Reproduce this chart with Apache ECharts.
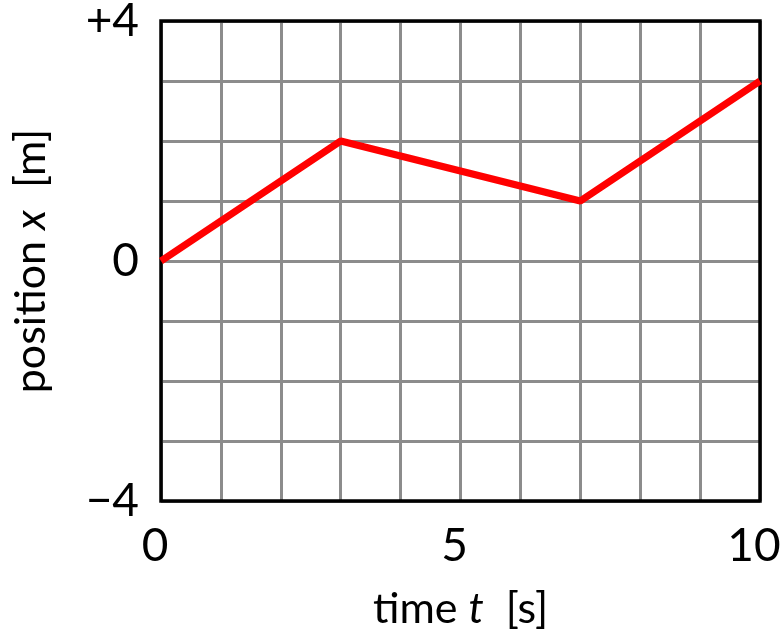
<!DOCTYPE html>
<html>
<head>
<meta charset="utf-8">
<script src="https://cdn.jsdelivr.net/npm/echarts@6/dist/echarts.min.js"></script>
<style>html,body{margin:0;padding:0;background:#fff;}#c{width:783px;height:637px;}</style>
</head>
<body>
<div id="c"></div>
<script>
const timeValues = [0, 3, 7, 10];
const positionValues = [0, 2, 1, 3];
const xTickLabels = {0: '0', 5: '5', 10: '10'};
const yTickLabels = {4: '+4', 0: '0', '-4': '\u22124'};

const FONT = 'Lato, "Noto Sans", sans-serif';
const chart = echarts.init(document.getElementById('c'));
const data = timeValues.map((t, i) => [t, positionValues[i]]);

const nameRich = {
  n: {fontSize: 43, fontFamily: FONT, color: '#000'},
  i: {fontSize: 43, fontFamily: FONT, fontStyle: 'italic', color: '#000'}
};

chart.setOption({
  animation: false,
  grid: {
    left: 161, right: 23, top: 21, bottom: 136, containLabel: false,
    outerBoundsMode: 'none',
    show: true, borderColor: '#000', borderWidth: 3.5, backgroundColor: 'transparent', z: 3
  },
  xAxis: {
    type: 'value', min: 0, max: 10, interval: 1,
    axisLine: {show: false, onZero: false}, axisTick: {show: false},
    splitLine: {show: true, lineStyle: {color: '#8c8c8c', width: 3}},
    axisLabel: {
      show: true, fontSize: 46, color: '#000', fontFamily: FONT, margin: 22,
      padding: [0, 12, 0, 0],
      formatter: v => xTickLabels[v] !== undefined ? xTickLabels[v] : ''
    },
    name: '{n|time }{i|t}{n|  [s]}', nameLocation: 'middle', nameGap: 87,
    nameTextStyle: {rich: nameRich}
  },
  yAxis: {
    type: 'value', min: -4, max: 4, interval: 1,
    axisLine: {show: false, onZero: false}, axisTick: {show: false},
    splitLine: {show: true, lineStyle: {color: '#8c8c8c', width: 3}},
    axisLabel: {
      show: true, fontSize: 46, color: '#000', fontFamily: FONT, margin: 22,
      formatter: v => yTickLabels[v] !== undefined ? yTickLabels[v] : ''
    },
    name: '{n|position }{i|x}{n|  [m]}', nameLocation: 'middle', nameGap: 108, nameRotate: 90,
    nameTextStyle: {rich: nameRich}
  },
  series: [{
    type: 'line', data: data,
    symbol: 'none', lineStyle: {color: '#ff0000', width: 7}, z: 5
  }]
});
</script>
</body>
</html>
